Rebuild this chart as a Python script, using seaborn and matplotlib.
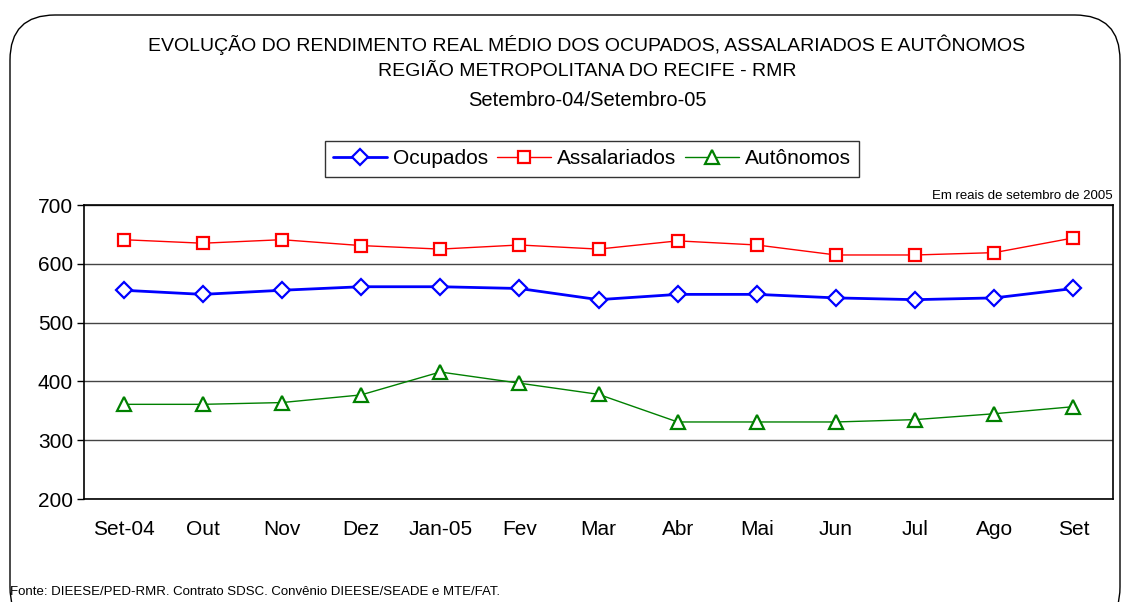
import matplotlib
matplotlib.use("Agg")
import matplotlib.pyplot as plt
import seaborn as sns
import pandas as pd
from matplotlib.patches import FancyBboxPatch

meses = ["Set-04", "Out", "Nov", "Dez", "Jan-05", "Fev", "Mar", "Abr", "Mai", "Jun", "Jul", "Ago", "Set"]
ocupados = [555, 548, 555, 561, 561, 558, 539, 548, 548, 542, 539, 542, 558]
assalariados = [641, 635, 641, 631, 625, 632, 625, 639, 632, 615, 615, 619, 644]
autonomos = [361, 361, 364, 377, 416, 397, 378, 331, 331, 331, 335, 345, 357]

series = ["Ocupados", "Assalariados", "Autônomos"]
cores = {"Ocupados": "#0000FF", "Assalariados": "#FF0000", "Autônomos": "#008000"}
marcadores = {"Ocupados": "D", "Assalariados": "s", "Autônomos": "^"}
larguras = {"Ocupados": 2.0, "Assalariados": 1.0, "Autônomos": 1.0}
tamanhos = {"Ocupados": 8, "Assalariados": 9, "Autônomos": 10}

df = pd.DataFrame({"mes": meses, "pos": range(len(meses)),
                   "Ocupados": ocupados, "Assalariados": assalariados, "Autônomos": autonomos})
longo = df.melt(id_vars=["mes", "pos"], value_vars=series, var_name="serie", value_name="valor")

sns.set_style("white")
plt.rcParams["font.family"] = ["Liberation Sans", "DejaVu Sans"]
plt.rcParams["text.color"] = "black"
plt.rcParams["xtick.color"] = "black"
plt.rcParams["ytick.color"] = "black"

fig = plt.figure(figsize=(11.28, 6.02), dpi=100)
ax = fig.add_axes([84/1128, 1 - 499/602, (1113-84)/1128, (499-205)/602])

for s in series:
    sub = longo[longo["serie"] == s]
    sns.lineplot(data=sub, x="pos", y="valor", ax=ax, color=cores[s], lw=larguras[s],
                 marker=marcadores[s], markersize=tamanhos[s], markerfacecolor="white",
                 markeredgecolor=cores[s], markeredgewidth=1.6, label=s)

ax.set_xlim(-0.5, len(meses) - 0.5)
ax.set_ylim(200, 700)
ax.set_yticks([200, 300, 400, 500, 600, 700])
ax.yaxis.grid(True, color="#444444", lw=1)
ax.set_axisbelow(True)
ax.set_xticks(range(len(meses)))
ax.set_xticklabels(meses, fontsize=15)
ax.set_xticks([i - 0.5 for i in range(len(meses) + 1)], minor=True)
ax.tick_params(axis="x", which="major", length=0, pad=15)
ax.tick_params(axis="x", which="minor", length=6, width=1, color="black", direction="out")
ax.tick_params(axis="y", labelsize=15, length=5, width=1, color="black", direction="out", left=True, pad=3)
ax.set_xlabel("")
ax.set_ylabel("")
for sp in ax.spines.values():
    sp.set_color("black")
    sp.set_linewidth(1.2)

leg = ax.legend(loc="center", bbox_to_anchor=((592 - 84) / 1029, 1 + (205 - 159) / 294),
                ncol=3, frameon=True, fancybox=False, fontsize=15, handlelength=2.6,
                handletextpad=0.3, columnspacing=0.4, borderpad=0.4, edgecolor="black")
leg.get_frame().set_linewidth(1.0)

cx = 587 / 1128
fig.text(cx, 1 - 45/602, "EVOLUÇÃO DO RENDIMENTO REAL MÉDIO DOS OCUPADOS, ASSALARIADOS E AUTÔNOMOS",
         ha="center", va="center", fontsize=14)
fig.text(cx, 1 - 72/602, "REGIÃO METROPOLITANA DO RECIFE - RMR", ha="center", va="center", fontsize=14)
fig.text(cx, 1 - 100/602, "Setembro-04/Setembro-05", ha="center", va="center", fontsize=14.5)
fig.text(1113/1128, 1 - 196/602, "Em reais de setembro de 2005", ha="right", va="center", fontsize=9.5)
fig.text(10/1128, 1 - 592/602, "Fonte: DIEESE/PED-RMR. Contrato SDSC. Convênio DIEESE/SEADE e MTE/FAT.",
         ha="left", va="center", fontsize=9.5)

borda = FancyBboxPatch((10/1128, -0.05), (1120-10)/1128, (0.05 + 1 - 15/602),
                       boxstyle="round,pad=0,rounding_size=0.04", transform=fig.transFigure,
                       fill=False, edgecolor="black", lw=1.0, mutation_aspect=1128/602)
fig.patches.append(borda)

fig.savefig("out.png", dpi=100)
